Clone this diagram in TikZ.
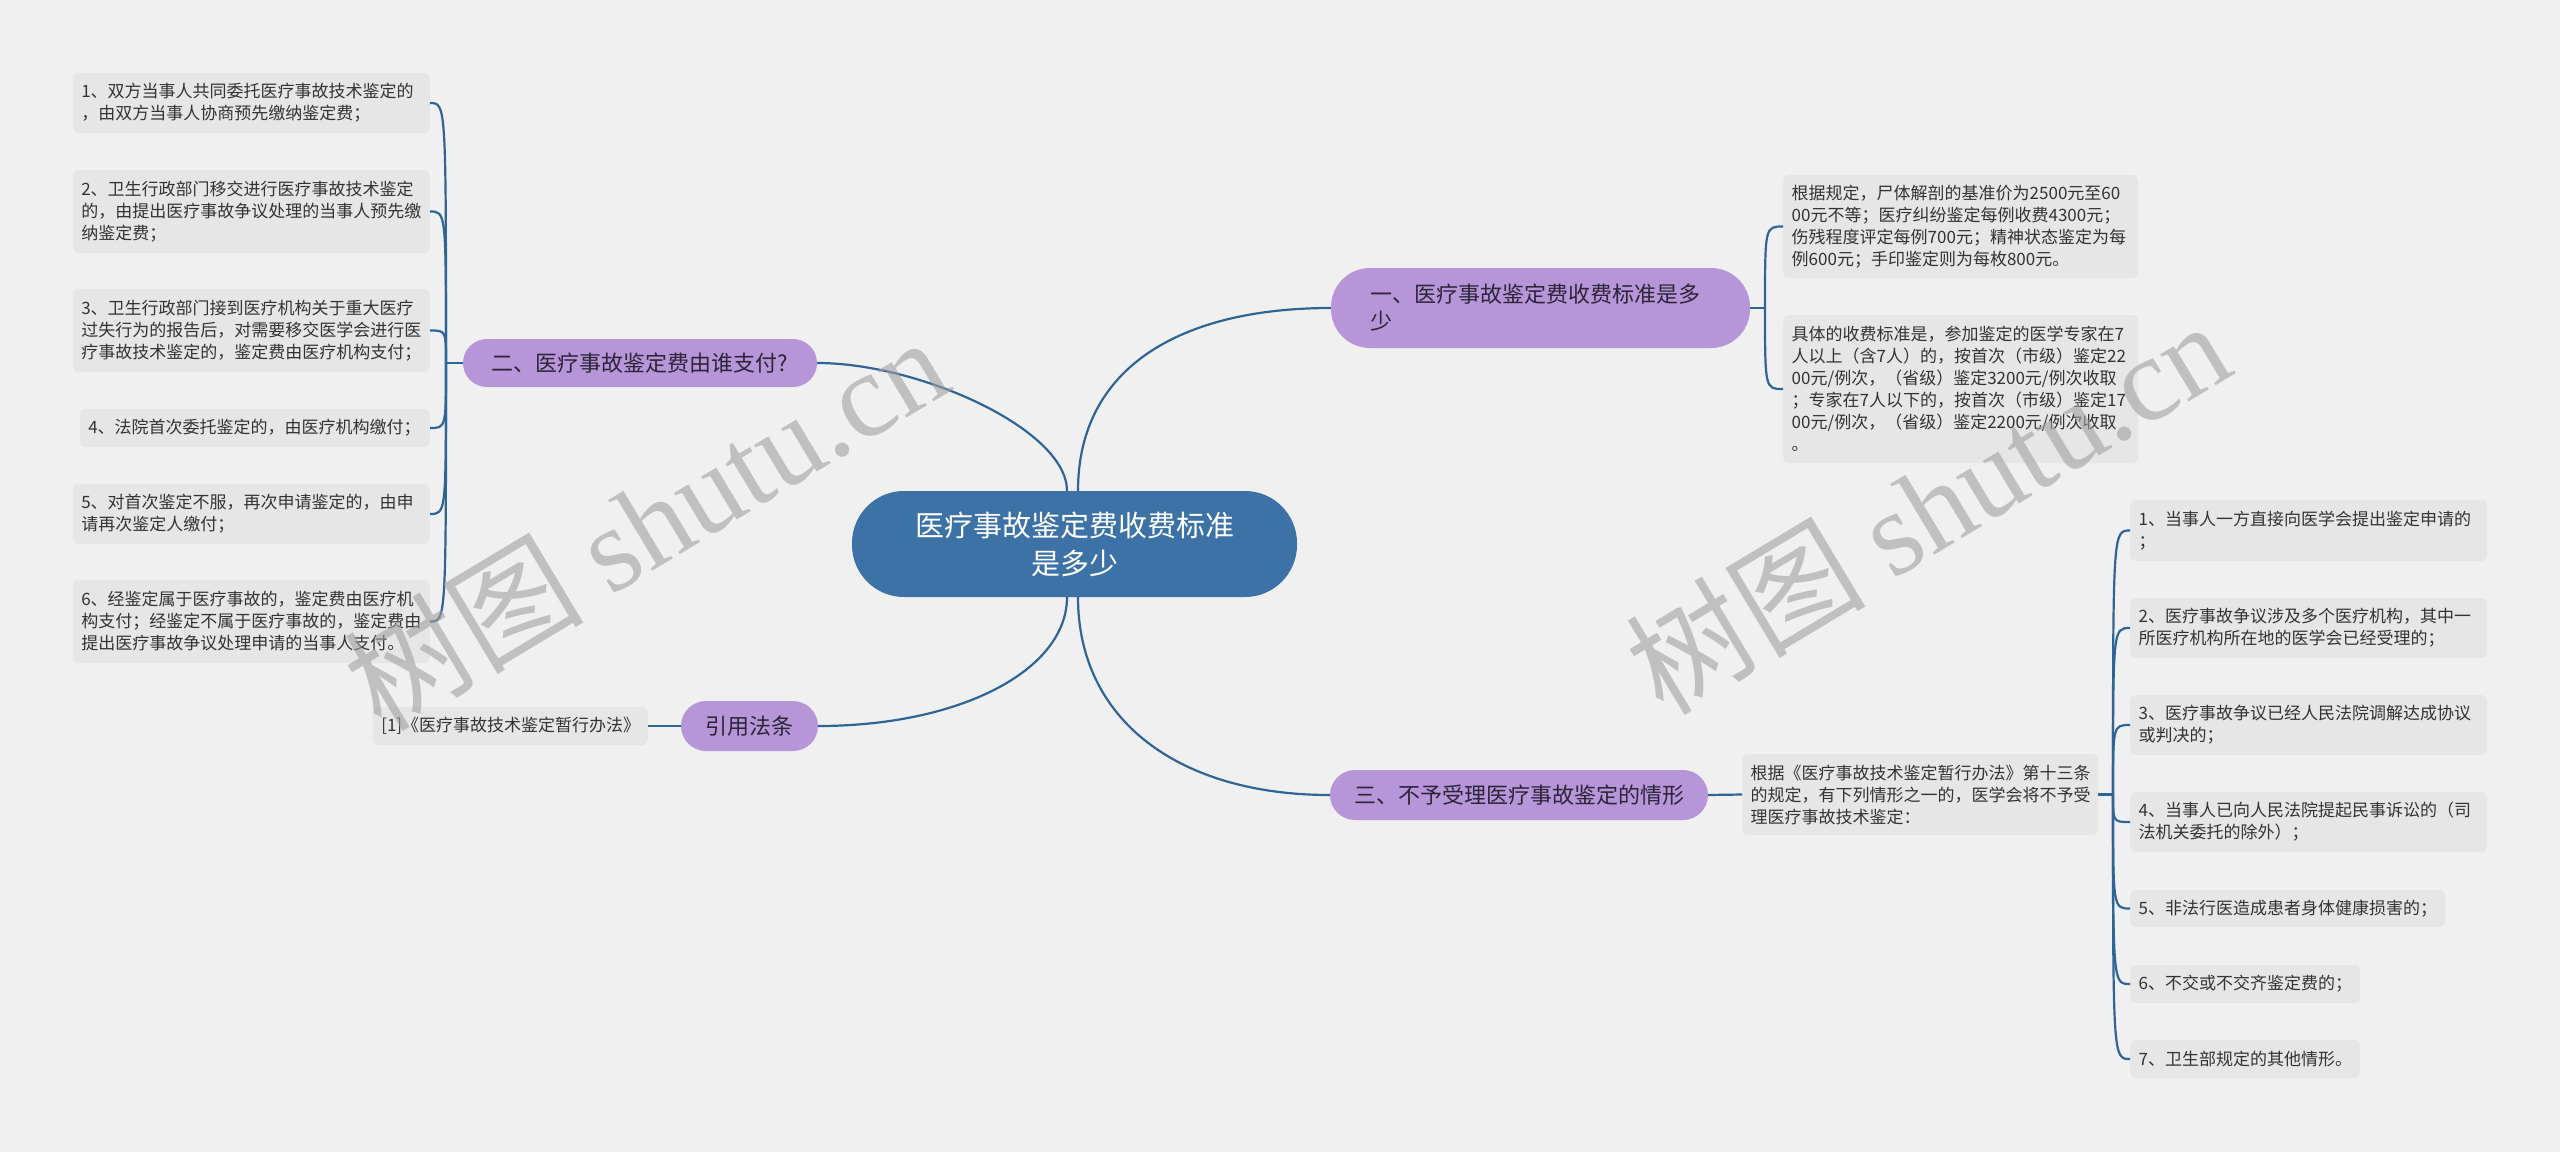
\documentclass[tikz,border=0pt]{standalone}
\usepackage{fontspec}
\setmainfont{Noto Sans CJK SC}
\newfontfamily\wmlat{Liberation Serif}
\definecolor{bg}{HTML}{F0F0F0}
\definecolor{boxc}{HTML}{E6E6E6}
\definecolor{linec}{HTML}{2F6496}
\definecolor{rootc}{HTML}{3D72A6}
\definecolor{purp}{HTML}{B696D9}
\definecolor{txt}{HTML}{333333}
\definecolor{btxt}{HTML}{2E2438}
\definecolor{wmc}{HTML}{A0A0A0}
\begin{document}
\begin{tikzpicture}[x=1pt,y=-1pt,
  detail/.style={fill=boxc, rounded corners=6pt, inner xsep=8.5pt, inner ysep=0pt, align=left, text=txt, font=\fontsize{17}{22}\selectfont},
  branch/.style={fill=purp, inner sep=0pt, text=btxt, font=\fontsize{22}{27}\selectfont},
  conn/.style={draw=linec, line width=2.2pt},
  wm/.style={rotate=31, text=wmc, text opacity=0.6, font=\fontsize{120}{120}\selectfont}
]
\fill[bg] (0,0) rectangle (2560,1152);
\useasboundingbox (0,0) rectangle (2560,1152);

% root
\node[fill=rootc, rounded corners=52pt, minimum width=445pt, minimum height=106pt, inner sep=0pt, text=white, align=center, font=\fontsize{29}{38}\selectfont] (C) at (1074.5,544) {医疗事故鉴定费收费标准\\是多少};

% branches
\node[branch, rounded corners=39pt, minimum width=419pt, minimum height=80pt, text width=341pt, align=left] (B1) at (1540.5,308) {一、医疗事故鉴定费收费标准是多\\少};
\node[branch, rounded corners=24pt, minimum width=354pt, minimum height=48pt] (B2) at (640,363) {二、医疗事故鉴定费由谁支付?};
\node[branch, rounded corners=25pt, minimum width=378pt, minimum height=50pt] (B3) at (1519,795) {三、不予受理医疗事故鉴定的情形};
\node[branch, rounded corners=25pt, minimum width=137pt, minimum height=50pt] (B4) at (749.5,726) {引用法条};

% left details
\node[detail, anchor=east, text width=340pt, minimum height=60pt] (L1) at (430,103) {1、双方当事人共同委托医疗事故技术鉴定的\\，由双方当事人协商预先缴纳鉴定费；};
\node[detail, anchor=east, text width=340pt, minimum height=83pt] (L2) at (430,211.5) {2、卫生行政部门移交进行医疗事故技术鉴定\\的，由提出医疗事故争议处理的当事人预先缴\\纳鉴定费；};
\node[detail, anchor=east, text width=340pt, minimum height=83pt] (L3) at (430,330.5) {3、卫生行政部门接到医疗机构关于重大医疗\\过失行为的报告后，对需要移交医学会进行医\\疗事故技术鉴定的，鉴定费由医疗机构支付；};
\node[detail, anchor=east, text width=333pt, minimum height=38pt] (L4) at (430,428) {4、法院首次委托鉴定的，由医疗机构缴付；};
\node[detail, anchor=east, text width=340pt, minimum height=60pt] (L5) at (430,514) {5、对首次鉴定不服，再次申请鉴定的，由申\\请再次鉴定人缴付；};
\node[detail, anchor=east, text width=340pt, minimum height=83pt] (L6) at (430,621.5) {6、经鉴定属于医疗事故的，鉴定费由医疗机\\构支付；经鉴定不属于医疗事故的，鉴定费由\\提出医疗事故争议处理申请的当事人支付。};

\node[detail, anchor=east, text width=258pt, minimum height=38pt] (C4) at (648,726) {[1]《医疗事故技术鉴定暂行办法》};

% right details of branch 1
\node[detail, anchor=west, text width=338pt, minimum height=103pt] (R1) at (1783,226.5) {根据规定，尸体解剖的基准价为2500元至60\\00元不等；医疗纠纷鉴定每例收费4300元；\\伤残程度评定每例700元；精神状态鉴定为每\\例600元；手印鉴定则为每枚800元。};
\node[detail, anchor=west, text width=338pt, minimum height=148pt] (R2) at (1783,389) {具体的收费标准是，参加鉴定的医学专家在7\\人以上（含7人）的，按首次（市级）鉴定22\\00元/例次，（省级）鉴定3200元/例次收取\\；专家在7人以下的，按首次（市级）鉴定17\\00元/例次，（省级）鉴定2200元/例次收取\\。};

% branch 3 details
\node[detail, anchor=west, text width=339pt, minimum height=81pt] (D3) at (1742,794.5) {根据《医疗事故技术鉴定暂行办法》第十三条\\的规定，有下列情形之一的，医学会将不予受\\理医疗事故技术鉴定：};
\node[detail, anchor=west, text width=340pt, minimum height=61pt] (S1) at (2130,530.5) {1、当事人一方直接向医学会提出鉴定申请的\\；};
\node[detail, anchor=west, text width=340pt, minimum height=60pt] (S2) at (2130,628) {2、医疗事故争议涉及多个医疗机构，其中一\\所医疗机构所在地的医学会已经受理的；};
\node[detail, anchor=west, text width=340pt, minimum height=60pt] (S3) at (2130,725) {3、医疗事故争议已经人民法院调解达成协议\\或判决的；};
\node[detail, anchor=west, text width=340pt, minimum height=60pt] (S4) at (2130,822) {4、当事人已向人民法院提起民事诉讼的（司\\法机关委托的除外）；};
\node[detail, anchor=west, text width=298pt, minimum height=37pt] (S5) at (2130,908.5) {5、非法行医造成患者身体健康损害的；};
\node[detail, anchor=west, text width=213pt, minimum height=38pt] (S6) at (2130,984) {6、不交或不交齐鉴定费的；};
\node[detail, anchor=west, text width=213pt, minimum height=38pt] (S7) at (2130,1059) {7、卫生部规定的其他情形。};

% junctions
\coordinate (J1) at (1765,308);
\coordinate (J2) at (446,363);
\coordinate (J3) at (2113,794.5);

% root connectors
\draw[conn] ([xshift=3.5pt]C.north) .. controls +(0,-123) and +(-151,0) .. (B1.west);
\draw[conn] ([xshift=-7.5pt]C.north) .. controls +(0,-61) and +(103,0) .. (B2.east);
\draw[conn] ([xshift=3.5pt]C.south) .. controls +(0,123) and +(-151,0) .. (B3.west);
\draw[conn] ([xshift=-7.5pt]C.south) .. controls +(0,73) and +(142,0) .. (B4.east);

% brackets
\draw[conn] (B1.east) -- (J1);
\foreach \n in {R1,R2} {\draw[conn] (J1) .. controls (J1 |- \n.west) .. (\n.west);}
\draw[conn] (B2.west) -- (J2);
\foreach \n in {L1,L2,L3,L4,L5,L6} {\draw[conn] (J2) .. controls (J2 |- \n.east) .. (\n.east);}
\draw[conn] (B3.east) -- (D3.west);
\draw[conn] (D3.east) -- (J3);
\foreach \n in {S1,S2,S3,S4,S5,S6,S7} {\draw[conn] (J3) .. controls (J3 |- \n.west) .. (\n.west);}
\draw[conn] (B4.west) -- (C4.east);

% watermarks
\node[wm] (W1) at (645,522) {树图 {\wmlat shutu.cn}};
\node[wm] (W2) at (1927,506) {树图 {\wmlat shutu.cn}};
\end{tikzpicture}
\end{document}
